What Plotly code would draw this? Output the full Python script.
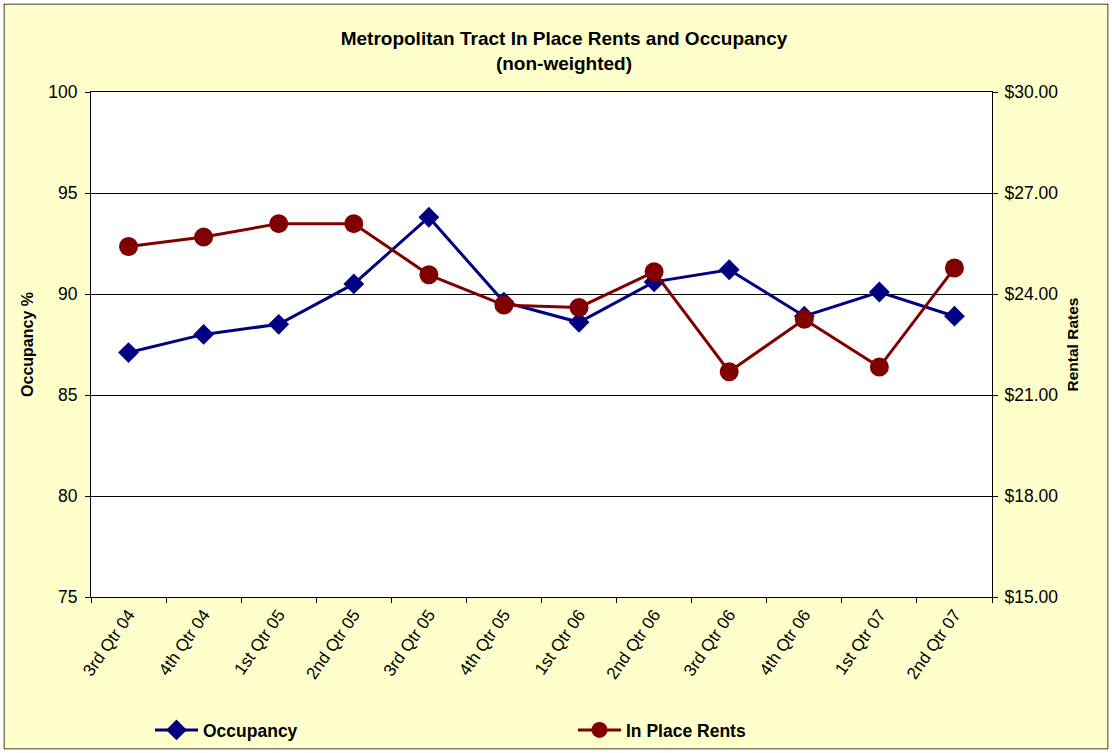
import plotly.graph_objects as go

# 数据
quarters = ["3rd Qtr 04", "4th Qtr 04", "1st Qtr 05", "2nd Qtr 05", "3rd Qtr 05", "4th Qtr 05",
            "1st Qtr 06", "2nd Qtr 06", "3rd Qtr 06", "4th Qtr 06", "1st Qtr 07", "2nd Qtr 07"]
occupancy = [87.1, 88.0, 88.5, 90.5, 93.8, 89.6, 88.6, 90.6, 91.2, 88.9, 90.1, 88.9]
rents = [25.41, 25.69, 26.09, 26.09, 24.57, 23.67, 23.60, 24.66, 21.69, 23.25, 21.83, 24.77]

W, H = 1112, 753
L, R, T, B = 91, 1112 - 992, 92, 753 - 597
pw, ph = W - L - R, H - T - B

FONT = "Liberation Sans, Arial, sans-serif"

fig = go.Figure()
fig.add_trace(go.Scatter(
    x=quarters, y=occupancy, name="<b>Occupancy</b>", mode="lines+markers",
    line=dict(color="#000080", width=3),
    marker=dict(symbol="diamond", size=16, color="#000080"),
    yaxis="y",
))
fig.add_trace(go.Scatter(
    x=quarters, y=rents, name="<b>In Place Rents</b>", mode="lines+markers",
    line=dict(color="#800000", width=3),
    marker=dict(symbol="circle", size=19, color="#800000"),
    yaxis="y2",
))

# 坐标轴
fig.update_xaxes(
    type="category", range=[-0.5, 11.5], tickson="boundaries",
    ticks="outside", ticklen=5, tickcolor="black",
    showline=True, linecolor="black", linewidth=1, mirror=True,
    showgrid=False, tickangle=-55,
    tickfont=dict(family=FONT, size=17, color="black"),
)
fig.update_layout(
    yaxis=dict(
        range=[75, 100], dtick=5, showgrid=True, gridcolor="black", gridwidth=1,
        showline=True, linecolor="black", ticks="outside", ticklen=5, tickcolor="black",
        ticklabelstandoff=4,
        tickfont=dict(family=FONT, size=17.5, color="black"),
        title=dict(text="<b>Occupancy %</b>", font=dict(family=FONT, size=16, color="black"), standoff=10),
        zeroline=False,
    ),
    yaxis2=dict(
        overlaying="y", side="right", range=[15, 30], dtick=3, tickformat="$.2f",
        showgrid=False, showline=True, linecolor="black", ticks="outside", ticklen=5,
        tickcolor="black", ticklabelstandoff=3,
        tickfont=dict(family=FONT, size=17.5, color="black"),
        title=dict(text="<b>Rental Rates</b>", font=dict(family=FONT, size=15.5, color="black"), standoff=9),
        zeroline=False,
    ),
)

# 外框
fig.add_shape(type="rect", xref="paper", yref="paper",
              x0=(4 - L) / pw, x1=(W - 4 - L) / pw,
              y0=-(H - 4 - T - ph) / ph, y1=1 + (T - 4) / ph,
              line=dict(color="black", width=1), layer="above")
fig.add_shape(type="rect", xref="paper", yref="paper",
              x0=(0 - L) / pw, x1=(W - L) / pw,
              y0=-(H - T - ph) / ph, y1=1 + T / ph,
              line=dict(color="white", width=7), layer="above")

fig.update_layout(
    title=dict(
        text="<b>Metropolitan Tract In Place Rents and Occupancy<br>(non-weighted)</b>",
        x=564 / W, xanchor="center", y=1 - 45 / H, yanchor="middle",
        font=dict(family=FONT, size=19, color="black"),
    ),
    legend=dict(
        orientation="h", xref="container", yref="container",
        x=150 / W, xanchor="left", y=1 - 730 / H, yanchor="middle",
        entrywidth=365, itemwidth=43, bgcolor="rgba(0,0,0,0)",
        font=dict(family=FONT, size=17.5, color="black"),
    ),
    showlegend=True,
    paper_bgcolor="#FFFFCC",
    plot_bgcolor="white",
    margin=dict(l=L, r=R, t=T, b=B),
    width=W, height=H,
)

fig.write_html("out.html", config={"displayModeBar": False},
               post_script="document.body.style.margin='0';")
